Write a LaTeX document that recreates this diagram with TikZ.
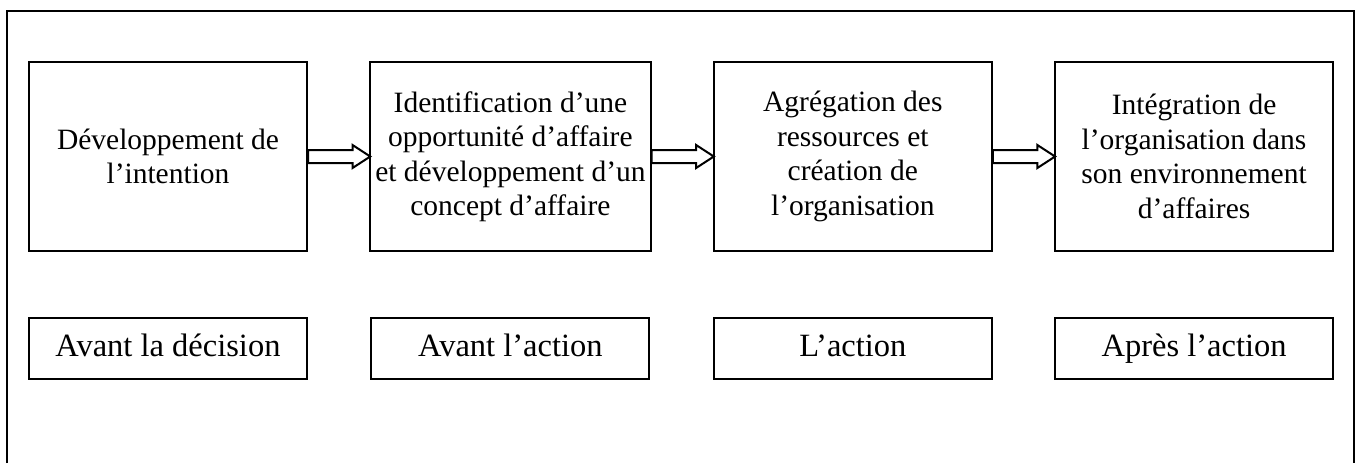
\documentclass[tikz,border=0pt]{standalone}
\usepackage{fontspec}
\setmainfont{Liberation Serif}
\usetikzlibrary{positioning,shapes.arrows}

\begin{document}
\begin{tikzpicture}[node distance=26pt and 24.5pt, every node/.style={font=\fontsize{11.8}{13.8}\selectfont},
	etape/.style={draw, line width=0.8pt, minimum width=111.2pt, minimum height=75.6pt, align=center, inner sep=2pt},
	phase/.style={draw, line width=0.8pt, minimum width=111.2pt, minimum height=24.4pt, inner sep=2pt, text height=9pt, text depth=2.6pt, font=\fontsize{13}{14}\selectfont},
	fleche/.style={single arrow, draw, line width=0.8pt, outer sep=0pt, inner xsep=0pt, inner ysep=2.2pt, minimum height=24.9pt, minimum width=8.4pt, single arrow head extend=2pt, single arrow tip angle=66}]
			\useasboundingbox (0,0) rectangle (543.6pt,-185.2pt);
			\draw[line width=0.8pt] (2.8pt,-185.2pt) |- (541.6pt,-4.4pt) -- (541.6pt,-185.2pt);
			
			\node[etape, anchor=north west] (b1) at (11.2pt,-24.4pt) {Développement de\\l’intention};
			\node[etape, right=of b1] (b2) {Identification d’une\\opportunité d’affaire\\et développement d’un\\concept d’affaire};
			\node[etape, right=of b2] (b3) {Agrégation des\\ressources et\\création de\\l’organisation};
			\node[etape, right=of b3] (b4) {Intégration de\\l’organisation dans\\son environnement\\d’affaires};
			
			\node[fleche, right=0pt of b1] (f1) {};
			\node[fleche, right=0pt of b2] (f2) {};
			\node[fleche, right=0pt of b3] (f3) {};
			
			\node[phase, below=of b1] (p1) {Avant la décision};
			\node[phase, below=of b2] (p2) {Avant l’action};
			\node[phase, below=of b3] (p3) {L’action};
			\node[phase, below=of b4] (p4) {Après l’action};
		\end{tikzpicture}
\end{document}
